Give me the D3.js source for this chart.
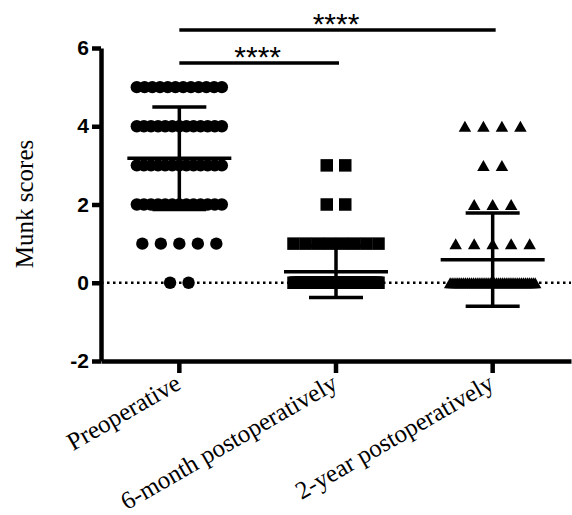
<!DOCTYPE html>
<html>
<head>
<meta charset="utf-8">
<script src="https://cdn.jsdelivr.net/npm/d3@7"></script>
<style>
  body { margin: 0; background: #fff; }
  svg { display: block; }
</style>
</head>
<body>
<div id="chart"></div>
<script>
// groups and Munk score counts per level (levels 0..5)
const groups = ['Preoperative', '6-month postoperatively', '2-year postoperatively'];
const scoreLevels = [0, 1, 2, 3, 4, 5];
const preopCounts = [2, 5, 13, 13, 13, 12];
const sixMonthCounts = [52, 8, 2, 2, 0, 0];
const twoYearCounts = [45, 5, 3, 2, 4, 0];
// mean and SD as drawn
const groupMeans = [3.18, 0.28, 0.59];
const groupSDs = [1.31, 0.66, 1.19];
const yTicks = [-2, 0, 2, 4, 6];
const comparisons = [
  { a: 0, b: 2, label: '****' },
  { a: 0, b: 1, label: '****' }
];

const width = 572, height = 515;
const countsByGroup = [preopCounts, sixMonthCounts, twoYearCounts];
const shapes = ['circle', 'square', 'triangle'];

const svg = d3.select('#chart').append('svg')
  .attr('width', width)
  .attr('height', height);

const x = d3.scaleBand().domain(groups).range([101, 571]);
const y = d3.scaleLinear().domain([-2, 6]).range([361, 48]);
const cx = i => x(groups[i]) + x.bandwidth() / 2;

// dotted zero line
svg.append('line')
  .attr('x1', 101).attr('x2', 571)
  .attr('y1', y(0)).attr('y2', y(0))
  .attr('stroke', '#000')
  .attr('stroke-width', 2.5)
  .attr('stroke-dasharray', '2.5,3.5');

// points
const points = [];
countsByGroup.forEach((counts, g) => {
  counts.forEach((c, li) => {
    const step = c > 1 ? Math.min(18.5, 85 / (c - 1)) : 0;
    for (let i = 0; i < c; i++) {
      points.push({ g, v: scoreLevels[li], px: cx(g) + (i - (c - 1) / 2) * step });
    }
  });
});

const tri = (w, h) => `M0,${-h / 2}L${w / 2},${h / 2}L${-w / 2},${h / 2}Z`;

const pts = svg.append('g').selectAll('g')
  .data(points)
  .join('g')
  .attr('transform', d => `translate(${d.px},${y(d.v)})`);

pts.filter(d => shapes[d.g] === 'circle').append('circle').attr('r', 6.2).attr('fill', '#000');
pts.filter(d => shapes[d.g] === 'square').append('rect')
  .attr('x', -6.25).attr('y', -6.25).attr('width', 12.5).attr('height', 12.5).attr('fill', '#000');
pts.filter(d => shapes[d.g] === 'triangle').append('path').attr('d', tri(12.5, 11)).attr('fill', '#000');

// mean +/- SD
const eb = svg.append('g').attr('stroke', '#000').attr('stroke-width', 3.5);
groups.forEach((name, g) => {
  const c = cx(g), m = groupMeans[g], s = groupSDs[g];
  eb.append('line').attr('x1', c).attr('x2', c).attr('y1', y(m - s)).attr('y2', y(m + s));
  eb.append('line').attr('x1', c - 52).attr('x2', c + 52).attr('y1', y(m)).attr('y2', y(m));
  [m - s, m + s].forEach(v => {
    eb.append('line').attr('x1', c - 27).attr('x2', c + 27).attr('y1', y(v)).attr('y2', y(v));
  });
});

// axes
const yAxis = svg.append('g')
  .attr('transform', 'translate(101,0)')
  .call(d3.axisLeft(y).tickValues(yTicks).tickSize(9).tickSizeOuter(0).tickPadding(3).tickFormat(d => String(d)));

const xAxis = svg.append('g')
  .attr('transform', 'translate(0,361)')
  .call(d3.axisBottom(x).tickSize(12).tickSizeOuter(0).tickFormat(''));

[yAxis, xAxis].forEach(a => {
  a.selectAll('path, line').attr('stroke', '#000').attr('stroke-width', 4.5);
});
yAxis.selectAll('text')
  .attr('fill', '#000')
  .style('font-family', '"Liberation Sans", Arial, sans-serif')
  .style('font-weight', 'bold')
  .style('font-size', '21px');

svg.append('g').selectAll('text')
  .data(groups)
  .join('text')
  .attr('transform', (d, i) => `translate(${cx(i) + 3},${388}) rotate(-30)`)
  .attr('text-anchor', 'end')
  .style('font-family', '"Liberation Serif", "Times New Roman", serif')
  .style('font-size', '25px')
  .text(d => d);

svg.append('text')
  .attr('transform', 'translate(33,204) rotate(-90)')
  .attr('text-anchor', 'middle')
  .style('font-family', '"Liberation Serif", "Times New Roman", serif')
  .style('font-size', '25px')
  .text('Munk scores');

// significance bars
const barY = [30, 63];
comparisons.forEach((cmp, i) => {
  const x1 = cx(cmp.a), x2 = cx(cmp.b);
  svg.append('line')
    .attr('x1', x1).attr('x2', x2 + 3)
    .attr('y1', barY[i]).attr('y2', barY[i])
    .attr('stroke', '#000').attr('stroke-width', 3.5);
  svg.append('text')
    .attr('x', (x1 + x2) / 2).attr('y', barY[i] + 4)
    .attr('text-anchor', 'middle')
    .style('font-family', '"Liberation Sans", Arial, sans-serif')
    .style('font-size', '30px')
    .text(cmp.label);
});
</script>
</body>
</html>
